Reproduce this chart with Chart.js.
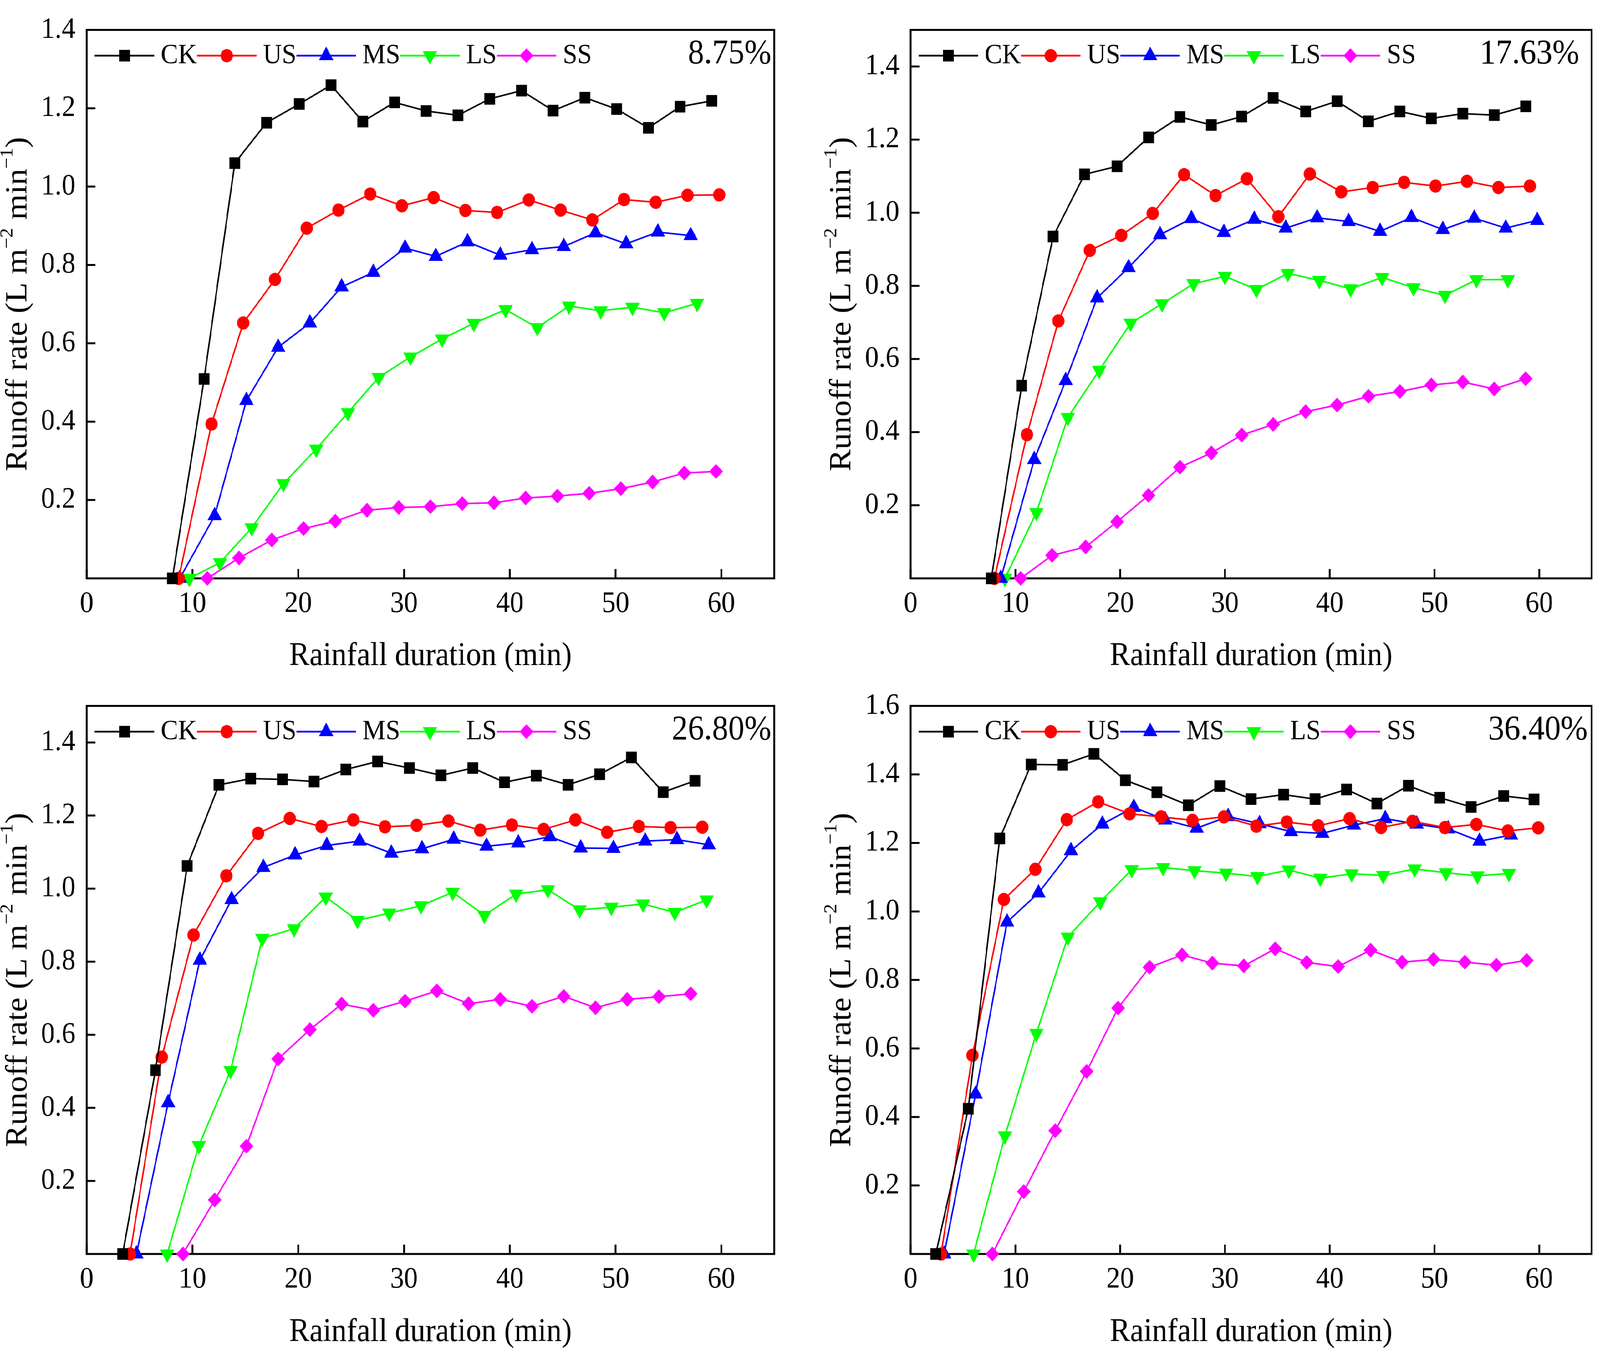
<!DOCTYPE html>
<html>
<head>
<meta charset="utf-8">
<script src="https://cdn.jsdelivr.net/npm/chart.js@4.4.1/dist/chart.umd.min.js"></script>
<style>
html, body { margin: 0; padding: 0; background: #fff; overflow: hidden; }
#wrap { position: relative; width: 4410px; height: 3462px; background: #fff; transform-origin: 0 0; }
#wrap canvas { position: absolute; }
</style>
</head>
<body>
<div id="wrap">
<canvas id="c1" width="2205" height="1731" style="left:0px;top:0px"></canvas>
<canvas id="c2" width="2205" height="1731" style="left:2205px;top:0px"></canvas>
<canvas id="c3" width="2205" height="1731" style="left:0px;top:1731px"></canvas>
<canvas id="c4" width="2205" height="1731" style="left:2205px;top:1731px"></canvas>
</div>
<script>
// series names + tick labels
const names = ["CK", "US", "MS", "LS", "SS"];
const xTicks = [0, 10, 20, 30, 40, 50, 60];
const percentLabels = ["8.75%", "17.63%", "26.80%", "36.40%"];

// ---- panel 1 (8.75%) ----
const p1_CK_t = [8.1, 11.1, 14.0, 17.0, 20.1, 23.1, 26.1, 29.1, 32.1, 35.1, 38.1, 41.1, 44.1, 47.1, 50.1, 53.1, 56.1, 59.1];
const p1_CK   = [0, 0.509, 1.060, 1.163, 1.211, 1.259, 1.166, 1.215, 1.193, 1.182, 1.224, 1.245, 1.194, 1.227, 1.198, 1.150, 1.204, 1.219];
const p1_US_t = [8.7, 11.8, 14.8, 17.8, 20.8, 23.8, 26.8, 29.8, 32.8, 35.8, 38.8, 41.8, 44.8, 47.8, 50.8, 53.8, 56.8, 59.8];
const p1_US   = [0, 0.394, 0.652, 0.763, 0.894, 0.940, 0.981, 0.951, 0.972, 0.939, 0.934, 0.966, 0.940, 0.915, 0.967, 0.960, 0.978, 0.979];
const p1_MS_t = [8.8, 12.1, 15.1, 18.1, 21.1, 24.1, 27.1, 30.1, 33.0, 36.0, 39.1, 42.1, 45.1, 48.1, 51.0, 54.0, 57.1];
const p1_MS   = [0, 0.160, 0.454, 0.590, 0.652, 0.744, 0.781, 0.843, 0.822, 0.859, 0.825, 0.839, 0.847, 0.882, 0.854, 0.884, 0.875];
const p1_LS_t = [9.7, 12.6, 15.6, 18.6, 21.7, 24.7, 27.6, 30.6, 33.6, 36.6, 39.6, 42.6, 45.6, 48.6, 51.6, 54.6, 57.7];
const p1_LS   = [0, 0.040, 0.129, 0.242, 0.330, 0.423, 0.513, 0.565, 0.611, 0.651, 0.686, 0.640, 0.695, 0.683, 0.692, 0.678, 0.702];
const p1_SS_t = [11.4, 14.4, 17.5, 20.5, 23.5, 26.5, 29.5, 32.5, 35.5, 38.5, 41.5, 44.5, 47.5, 50.5, 53.5, 56.5, 59.5];
const p1_SS   = [0, 0.052, 0.098, 0.127, 0.146, 0.174, 0.181, 0.183, 0.191, 0.193, 0.205, 0.210, 0.217, 0.229, 0.246, 0.269, 0.273];

// ---- panel 2 (17.63%) ----
const p2_CK_t = [7.7, 10.6, 13.6, 16.6, 19.7, 22.7, 25.7, 28.7, 31.6, 34.6, 37.7, 40.7, 43.7, 46.7, 49.7, 52.7, 55.7, 58.7];
const p2_CK   = [0, 0.527, 0.935, 1.105, 1.127, 1.206, 1.262, 1.240, 1.263, 1.314, 1.277, 1.305, 1.250, 1.277, 1.258, 1.271, 1.267, 1.291];
const p2_US_t = [8.0, 11.1, 14.1, 17.1, 20.1, 23.1, 26.1, 29.1, 32.1, 35.1, 38.1, 41.1, 44.1, 47.1, 50.1, 53.1, 56.1, 59.1];
const p2_US   = [0, 0.393, 0.704, 0.897, 0.938, 0.998, 1.104, 1.047, 1.093, 0.989, 1.106, 1.057, 1.069, 1.083, 1.073, 1.086, 1.069, 1.073];
const p2_MS_t = [8.6, 11.8, 14.8, 17.8, 20.8, 23.8, 26.8, 29.9, 32.8, 35.8, 38.8, 41.8, 44.8, 47.8, 50.8, 53.8, 56.8, 59.8];
const p2_MS   = [0, 0.325, 0.541, 0.767, 0.850, 0.940, 0.984, 0.946, 0.982, 0.958, 0.986, 0.976, 0.949, 0.987, 0.954, 0.985, 0.958, 0.979];
const p2_LS_t = [9.0, 12.0, 15.0, 18.0, 21.0, 24.0, 27.0, 30.0, 33.0, 36.0, 39.0, 42.0, 45.0, 48.0, 51.0, 54.0, 57.0];
const p2_LS   = [0, 0.180, 0.440, 0.569, 0.698, 0.751, 0.806, 0.826, 0.790, 0.834, 0.815, 0.792, 0.823, 0.795, 0.774, 0.817, 0.817];
const p2_SS_t = [10.5, 13.5, 16.7, 19.7, 22.7, 25.7, 28.7, 31.6, 34.6, 37.7, 40.7, 43.7, 46.7, 49.7, 52.7, 55.7, 58.7];
const p2_SS   = [0, 0.063, 0.086, 0.155, 0.227, 0.304, 0.343, 0.392, 0.421, 0.456, 0.474, 0.498, 0.511, 0.529, 0.537, 0.518, 0.546];

// ---- panel 3 (26.80%) ----
const p3_CK_t = [3.4, 6.5, 9.5, 12.5, 15.5, 18.5, 21.5, 24.5, 27.5, 30.5, 33.5, 36.5, 39.5, 42.5, 45.5, 48.5, 51.5, 54.5, 57.5];
const p3_CK   = [0, 0.503, 1.062, 1.284, 1.301, 1.299, 1.293, 1.326, 1.348, 1.330, 1.310, 1.330, 1.291, 1.309, 1.284, 1.313, 1.359, 1.264, 1.295];
const p3_US_t = [4.1, 7.1, 10.1, 13.2, 16.2, 19.2, 22.2, 25.2, 28.2, 31.2, 34.2, 37.2, 40.2, 43.2, 46.2, 49.2, 52.2, 55.2, 58.2];
const p3_US   = [0, 0.539, 0.873, 1.035, 1.151, 1.192, 1.170, 1.188, 1.169, 1.173, 1.185, 1.160, 1.174, 1.162, 1.188, 1.154, 1.170, 1.167, 1.168];
const p3_MS_t = [4.7, 7.7, 10.7, 13.7, 16.7, 19.7, 22.7, 25.8, 28.8, 31.7, 34.7, 37.8, 40.8, 43.8, 46.7, 49.8, 52.8, 55.8, 58.8];
const p3_MS   = [0, 0.414, 0.804, 0.970, 1.058, 1.092, 1.118, 1.130, 1.097, 1.109, 1.135, 1.116, 1.125, 1.142, 1.111, 1.110, 1.130, 1.134, 1.120];
const p3_LS_t = [7.6, 10.6, 13.6, 16.6, 19.6, 22.6, 25.6, 28.6, 31.6, 34.6, 37.6, 40.6, 43.6, 46.6, 49.6, 52.6, 55.6, 58.6];
const p3_LS   = [0, 0.297, 0.502, 0.864, 0.890, 0.977, 0.913, 0.933, 0.953, 0.990, 0.927, 0.985, 0.997, 0.942, 0.949, 0.958, 0.935, 0.969];
const p3_SS_t = [9.1, 12.1, 15.1, 18.1, 21.1, 24.1, 27.1, 30.1, 33.1, 36.1, 39.1, 42.1, 45.1, 48.1, 51.1, 54.1, 57.1];
const p3_SS   = [0, 0.148, 0.295, 0.534, 0.614, 0.684, 0.667, 0.692, 0.720, 0.685, 0.697, 0.678, 0.705, 0.674, 0.697, 0.704, 0.712];

// ---- panel 4 (36.40%) ----
const p4_CK_t = [2.4, 5.5, 8.5, 11.5, 14.5, 17.5, 20.5, 23.5, 26.5, 29.5, 32.5, 35.6, 38.6, 41.6, 44.5, 47.5, 50.5, 53.5, 56.6, 59.5];
const p4_CK   = [0, 0.424, 1.213, 1.429, 1.428, 1.460, 1.383, 1.348, 1.310, 1.366, 1.328, 1.341, 1.328, 1.356, 1.315, 1.367, 1.332, 1.305, 1.337, 1.327];
const p4_US_t = [2.9, 5.9, 8.9, 11.9, 14.9, 17.9, 20.9, 23.9, 26.9, 29.9, 33.0, 35.9, 38.9, 41.9, 44.9, 47.9, 51.0, 54.0, 57.0, 59.9];
const p4_US   = [0, 0.580, 1.035, 1.123, 1.268, 1.320, 1.285, 1.276, 1.266, 1.276, 1.249, 1.261, 1.250, 1.271, 1.245, 1.263, 1.245, 1.254, 1.235, 1.244];
const p4_MS_t = [3.2, 6.2, 9.2, 12.2, 15.3, 18.3, 21.3, 24.3, 27.3, 30.3, 33.3, 36.3, 39.3, 42.3, 45.3, 48.3, 51.3, 54.3, 57.3];
const p4_MS   = [0, 0.467, 0.969, 1.054, 1.177, 1.255, 1.304, 1.267, 1.243, 1.277, 1.256, 1.233, 1.228, 1.252, 1.271, 1.255, 1.241, 1.205, 1.223];
const p4_LS_t = [6.0, 9.0, 12.0, 15.0, 18.1, 21.1, 24.1, 27.1, 30.1, 33.1, 36.1, 39.1, 42.1, 45.1, 48.1, 51.1, 54.1, 57.1];
const p4_LS   = [0, 0.345, 0.644, 0.925, 1.028, 1.122, 1.128, 1.119, 1.112, 1.102, 1.121, 1.097, 1.110, 1.105, 1.124, 1.113, 1.104, 1.111];
const p4_SS_t = [7.8, 10.8, 13.8, 16.8, 19.8, 22.8, 25.9, 28.8, 31.8, 34.8, 37.8, 40.8, 43.9, 46.9, 49.9, 52.9, 55.9, 58.8];
const p4_SS   = [0, 0.182, 0.360, 0.533, 0.718, 0.837, 0.873, 0.849, 0.841, 0.891, 0.851, 0.839, 0.887, 0.852, 0.860, 0.852, 0.843, 0.857];

// styles
const FONT = '"Liberation Serif", "Times New Roman", serif';
const colors = ["#000000", "#ff0000", "#0000ff", "#00ff00", "#ff00ff"];
const markers = [
    { style: "rect", r: 21, rot: 0 },
    { style: "circle", r: 17, rot: 0 },
    { style: "triangle", r: 23, rot: 0 },
    { style: "triangle", r: 23, rot: 180 },
    { style: "rectRot", r: 19, rot: 0 }
];

const panels = [
    { id: "c1", yW: 239, padTop: 33, padRight: 71, xH: 250, yMax: 1.4, pctInset: 8,
      series: [[p1_CK_t, p1_CK], [p1_US_t, p1_US], [p1_MS_t, p1_MS], [p1_LS_t, p1_LS], [p1_SS_t, p1_SS]] },
    { id: "c2", yW: 305, padTop: 33, padRight: 9, xH: 250, yMax: 1.5, pctInset: 34,
      series: [[p2_CK_t, p2_CK], [p2_US_t, p2_US], [p2_MS_t, p2_MS], [p2_LS_t, p2_LS], [p2_SS_t, p2_SS]] },
    { id: "c3", yW: 239, padTop: 32, padRight: 71, xH: 251, yMax: 1.5, pctInset: 8,
      series: [[p3_CK_t, p3_CK], [p3_US_t, p3_US], [p3_MS_t, p3_MS], [p3_LS_t, p3_LS], [p3_SS_t, p3_SS]] },
    { id: "c4", yW: 305, padTop: 32, padRight: 9, xH: 251, yMax: 1.6, pctInset: 11,
      series: [[p4_CK_t, p4_CK], [p4_US_t, p4_US], [p4_MS_t, p4_MS], [p4_LS_t, p4_LS], [p4_SS_t, p4_SS]] }
];

// stretch the 4410x3462 layout over the whole viewport
const sx = window.innerWidth / 4410;
const sy = window.innerHeight / 3462;
document.getElementById("wrap").style.transform = "scale(" + sx + "," + sy + ")";

function pts(t, y) {
    return t.map((v, i) => ({ x: v, y: y[i] }));
}

// same shapes as chart.js pointStyle, for the legend
function drawMarker(ctx, m, x, y) {
    const r = m.r;
    ctx.beginPath();
    if (m.style === "circle") {
        ctx.arc(x, y, r, 0, Math.PI * 2);
    } else if (m.style === "rect") {
        const h = r * Math.SQRT1_2;
        ctx.rect(x - h, y - h, 2 * h, 2 * h);
    } else if (m.style === "rectRot") {
        ctx.moveTo(x - r, y);
        ctx.lineTo(x, y - r);
        ctx.lineTo(x + r, y);
        ctx.lineTo(x, y + r);
        ctx.closePath();
    } else {
        const s = m.rot ? -1 : 1;
        const w = r * Math.sin(Math.PI / 3);
        ctx.moveTo(x, y - s * r);
        ctx.lineTo(x + w, y + s * r / 2);
        ctx.lineTo(x - w, y + s * r / 2);
        ctx.closePath();
    }
    ctx.fill();
}

const decoPlugin = {
    id: "deco",
    beforeDatasetsDraw(chart, args, opts) {
        const { ctx, chartArea: a, scales } = chart;
        ctx.save();
        ctx.strokeStyle = "#000";
        ctx.lineWidth = 5;
        ctx.strokeRect(a.left, a.top, a.right - a.left, a.bottom - a.top);

        // ticks point inwards
        ctx.beginPath();
        scales.x.ticks.forEach(t => {
            const px = scales.x.getPixelForValue(t.value);
            ctx.moveTo(px, a.bottom);
            ctx.lineTo(px, a.bottom - 24);
        });
        scales.y.ticks.forEach(t => {
            if (t.value === 0) return;
            const py = scales.y.getPixelForValue(t.value);
            ctx.moveTo(a.left, py);
            ctx.lineTo(a.left + 24, py);
        });
        ctx.stroke();

        // y title with superscripts
        const parts = [
            ["Runoff rate (L m", false], ["\u22122", true], [" min", false], ["\u22121", true], [")", false]
        ];
        const big = "84px " + FONT, small = "50px " + FONT;
        let total = 0;
        parts.forEach(p => { ctx.font = p[1] ? small : big; total += ctx.measureText(p[0]).width; });
        ctx.translate(a.left - 188, (a.top + a.bottom) / 2);
        ctx.rotate(-Math.PI / 2);
        ctx.fillStyle = "#000";
        ctx.textBaseline = "middle";
        ctx.textAlign = "left";
        let x = -total / 2;
        parts.forEach(p => {
            ctx.font = p[1] ? small : big;
            ctx.fillText(p[0], x, p[1] ? -30 : 0);
            x += ctx.measureText(p[0]).width;
        });
        ctx.restore();
    },
    afterDatasetsDraw(chart, args, opts) {
        const { ctx, chartArea: a } = chart;
        ctx.save();
        const ly = a.top + 66;
        let x = a.left + 22;
        ctx.font = "72px " + FONT;
        ctx.textBaseline = "middle";
        ctx.textAlign = "left";
        names.forEach((n, i) => {
            ctx.strokeStyle = colors[i];
            ctx.fillStyle = colors[i];
            ctx.lineWidth = 4.5;
            ctx.beginPath();
            ctx.moveTo(x, ly);
            ctx.lineTo(x + 164, ly);
            ctx.stroke();
            drawMarker(ctx, markers[i], x + 82, ly);
            ctx.fillStyle = "#000";
            ctx.fillText(n, x + 182, ly);
            x += 182 + ctx.measureText(n).width;
        });

        ctx.font = "89px " + FONT;
        ctx.textAlign = "right";
        ctx.fillText(opts.pct, a.right - opts.inset, a.top + 62);
        ctx.restore();
    }
};

panels.forEach((p, k) => {
    const datasets = p.series.map((s, i) => ({
        label: names[i],
        data: pts(s[0], s[1]),
        borderColor: colors[i],
        backgroundColor: colors[i],
        borderWidth: 4,
        pointStyle: markers[i].style,
        pointRadius: markers[i].r,
        pointRotation: markers[i].rot,
        pointBorderWidth: 0,
        pointBackgroundColor: colors[i],
        tension: 0,
        clip: false
    }));

    new Chart(document.getElementById(p.id), {
        type: "line",
        data: { datasets: datasets },
        plugins: [decoPlugin],
        options: {
            responsive: false,
            animation: false,
            layout: { padding: { left: 0, top: p.padTop, right: p.padRight, bottom: 0 } },
            plugins: {
                legend: { display: false },
                tooltip: { enabled: false },
                deco: { pct: percentLabels[k], inset: p.pctInset }
            },
            scales: {
                x: {
                    type: "linear",
                    min: 0,
                    max: 65,
                    afterFit: sc => { sc.height = p.xH; },
                    afterBuildTicks: sc => { sc.ticks = xTicks.map(v => ({ value: v })); },
                    grid: { display: false, drawTicks: false },
                    border: { display: false },
                    ticks: {
                        autoSkip: false,
                        maxRotation: 0,
                        padding: 20,
                        color: "#000",
                        font: { family: FONT, size: 76 }
                    },
                    title: {
                        display: true,
                        text: "Rainfall duration (min)",
                        color: "#000",
                        padding: 0,
                        font: { family: FONT, size: 84 }
                    }
                },
                y: {
                    type: "linear",
                    min: 0,
                    max: p.yMax,
                    afterFit: sc => { sc.width = p.yW; },
                    grid: { display: false, drawTicks: false },
                    border: { display: false },
                    ticks: {
                        stepSize: 0.2,
                        includeBounds: false,
                        padding: 31,
                        color: "#000",
                        font: { family: FONT, size: 76 },
                        callback: v => (v === 0 ? "" : v.toFixed(1))
                    }
                }
            }
        }
    });
});
</script>
</body>
</html>
